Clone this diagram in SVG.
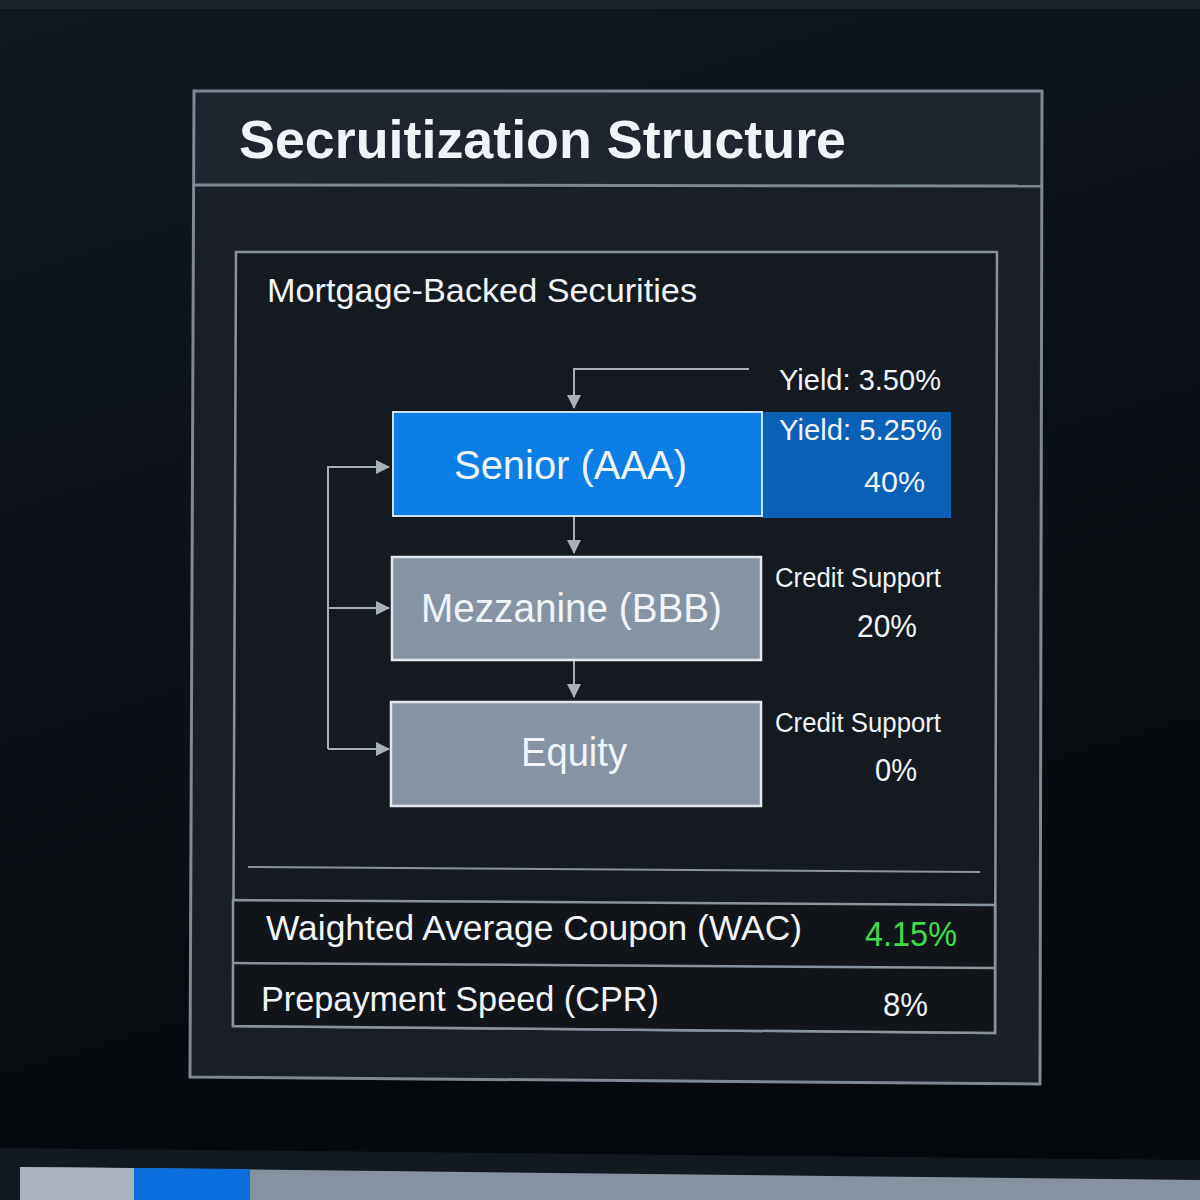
<svg xmlns="http://www.w3.org/2000/svg" width="1200" height="1200" viewBox="0 0 1200 1200">
<defs>
<linearGradient id="bg" x1="0" y1="0" x2="0.3" y2="1">
<stop offset="0" stop-color="#111820"/>
<stop offset="0.6" stop-color="#0b1016"/>
<stop offset="1" stop-color="#05080c"/>
</linearGradient>
<marker id="ah" viewBox="0 0 14 14" refX="13" refY="7" markerWidth="14" markerHeight="14" markerUnits="userSpaceOnUse" orient="auto">
<path d="M0,0 L14,7 L0,14 Z" fill="#a9b2bc"/>
</marker>
<style>
.t{font-family:"Liberation Sans","Noto Sans",Arial,sans-serif;fill:#f1f4f7}
.frame{fill:none;stroke:#7e8995;stroke-width:3}
.conn{fill:none;stroke:#a9b2bc;stroke-width:2}
.gray{fill:#8693a3;stroke:#e4e8ec;stroke-width:2.5}
</style>
</defs>
<rect width="1200" height="1200" fill="url(#bg)"/>
<rect x="0" y="0" width="1200" height="9" fill="#1b232d"/>
<!-- bottom bar -->
<polygon points="0,1148 1200,1160 1200,1200 0,1200" fill="#121921"/>
<polygon points="20,1167 1200,1180 1200,1200 20,1200" fill="#8692a0"/>
<polygon points="20,1167 134,1168 134,1200 20,1200" fill="#a9b3bd"/>
<polygon points="134,1168 250,1169 250,1200 134,1200" fill="#0a6fdc"/>
<!-- outer panel -->
<g id="outer-panel">
<path d="M194,91 L1042,91 L1040,1084 L190,1077 Z" fill="#1a1f27"/>
<path d="M194,91 L1042,91 L1042,186 L194,185 Z" fill="#1e252e"/>
<path class="frame" d="M194,91 L1042,91 L1040,1084 L190,1077 Z"/>
<line x1="194" y1="185" x2="1042" y2="186" stroke="#7e8995" stroke-width="3"/>
<text class="t" x="239" y="158" font-size="54" font-weight="600" textLength="607" lengthAdjust="spacingAndGlyphs">Secruitization Structure</text>
</g>
<!-- inner panel -->
<g id="inner-panel">
<path d="M236,252 L997,252 L995,1033 L233,1026 Z" fill="#151a20" stroke="#8a949f" stroke-width="2.5"/>
<text class="t" x="267" y="302" font-size="34" textLength="430" lengthAdjust="spacingAndGlyphs">Mortgage-Backed Securities</text>
<line x1="248" y1="867" x2="980" y2="872" stroke="#8a949f" stroke-width="2"/>
</g>
<!-- connectors -->
<g id="connectors">
<path class="conn" d="M749,369 L574,369 L574,408" marker-end="url(#ah)"/>
<path class="conn" d="M574,516 L574,553" marker-end="url(#ah)"/>
<path class="conn" d="M574,661 L574,697" marker-end="url(#ah)"/>
<path class="conn" d="M328,749 L328,467 L389,467" marker-end="url(#ah)"/>
<path class="conn" d="M328,608 L389,608" marker-end="url(#ah)"/>
<path class="conn" d="M328,749 L389,749" marker-end="url(#ah)"/>
</g>
<!-- senior -->
<g id="node-senior">
<rect x="762" y="412" width="189" height="106" fill="#0a5fb6"/>
<rect x="393" y="412" width="369" height="104" fill="#0a7ee4" stroke="#cde2f6" stroke-width="2"/>
<text class="t" x="454" y="479" font-size="40" textLength="233" lengthAdjust="spacingAndGlyphs">Senior (AAA)</text>
<text class="t" x="779" y="390" font-size="30" textLength="162" lengthAdjust="spacingAndGlyphs">Yield: 3.50%</text>
<text class="t" x="779" y="440" font-size="30" textLength="163" lengthAdjust="spacingAndGlyphs">Yield: 5.25%</text>
<text class="t" x="864" y="492" font-size="30" textLength="61" lengthAdjust="spacingAndGlyphs">40%</text>
</g>
<!-- mezzanine -->
<g id="node-mezzanine">
<rect class="gray" x="392" y="557" width="369" height="103"/>
<text class="t" x="421" y="622" font-size="41" textLength="301" lengthAdjust="spacingAndGlyphs">Mezzanine (BBB)</text>
<text class="t" x="775" y="587" font-size="27" textLength="166" lengthAdjust="spacingAndGlyphs">Credit Support</text>
<text class="t" x="857" y="637" font-size="31" textLength="60" lengthAdjust="spacingAndGlyphs">20%</text>
</g>
<!-- equity -->
<g id="node-equity">
<rect class="gray" x="391" y="702" width="370" height="104"/>
<text class="t" x="521" y="766" font-size="41" textLength="106" lengthAdjust="spacingAndGlyphs">Equity</text>
<text class="t" x="775" y="732" font-size="27" textLength="166" lengthAdjust="spacingAndGlyphs">Credit Support</text>
<text class="t" x="875" y="781" font-size="31" textLength="42" lengthAdjust="spacingAndGlyphs">0%</text>
</g>
<!-- table -->
<g id="metrics-table">
<path d="M233,900 L995,905 L995,1033 L233,1026 Z" fill="#111519" stroke="#8a949f" stroke-width="2.5"/>
<line x1="233" y1="963" x2="995" y2="968" stroke="#8a949f" stroke-width="2.5"/>
<text class="t" x="266" y="940" font-size="35" textLength="536" lengthAdjust="spacingAndGlyphs">Waighted Average Coupon (WAC)</text>
<text class="t" x="865" y="946" font-size="35" textLength="92" lengthAdjust="spacingAndGlyphs" style="fill:#3fdc4b">4.15%</text>
<text class="t" x="261" y="1011" font-size="35" textLength="398" lengthAdjust="spacingAndGlyphs">Prepayment Speed (CPR)</text>
<text class="t" x="883" y="1016" font-size="33" textLength="45" lengthAdjust="spacingAndGlyphs">8%</text>
</g>
</svg>
